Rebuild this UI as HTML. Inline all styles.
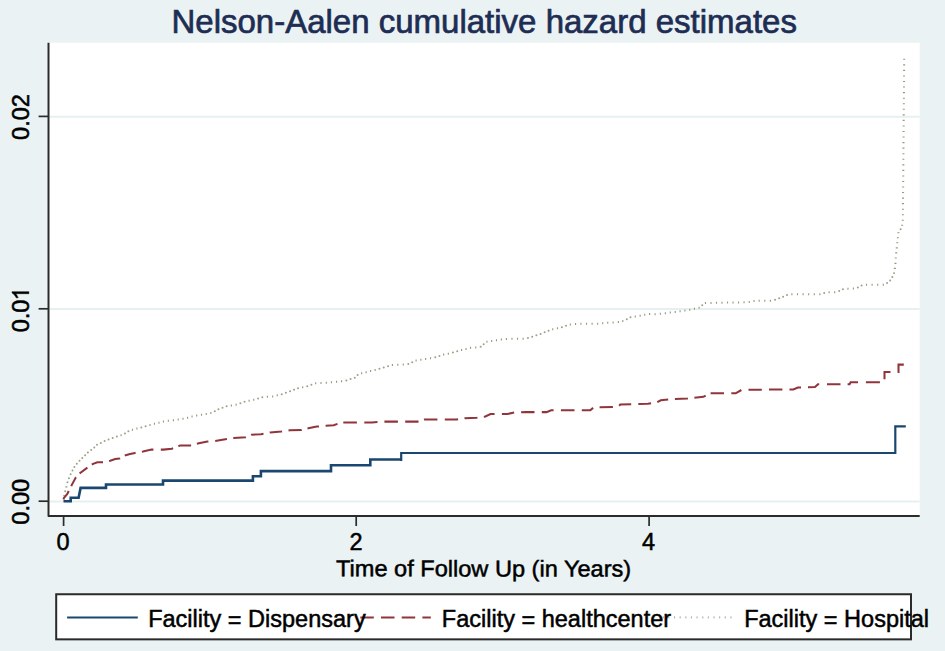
<!DOCTYPE html>
<html>
<head>
<meta charset="utf-8">
<title>Nelson-Aalen cumulative hazard estimates</title>
<style>
  html, body { margin: 0; padding: 0; background: #eaf2f3; }
  body { width: 945px; height: 651px; overflow: hidden; font-family: "Liberation Sans", sans-serif; }
  svg { display: block; }
  text { font-family: "Liberation Sans", sans-serif; stroke: #000; stroke-width: 0.5px; paint-order: stroke; }
  text.ttl { stroke: #1e2d53; stroke-width: 0.7px; }
</style>
</head>
<body>
<svg width="945" height="651" viewBox="0 0 945 651">
  <!-- graph region background -->
  <rect x="0" y="0" width="945" height="651" fill="#eaf2f3"/>

  <!-- plot region -->
  <rect x="47.5" y="42.7" width="872.2" height="473.3" fill="#ffffff"/>

  <!-- grid lines -->
  <g stroke="#e7f0f1" stroke-width="2">
    <line x1="49.5" y1="116.7" x2="919.7" y2="116.7"/>
    <line x1="49.5" y1="309.1" x2="919.7" y2="309.1"/>
    <line x1="49.5" y1="501.6" x2="919.7" y2="501.6"/>
  </g>

  <!-- Facility = Hospital (dotted) -->
  <path fill="none" stroke="#8f9a78" stroke-width="1.1" d="M63.07,495.77 h2 M65.42,486.92 h2 M121.09,434.19 v2 M132.45,428.75 v2 M136.91,427.61 v2 M150.01,423.91 v2 M154.46,422.76 v2 M158.95,421.65 v2 M163.48,420.58 v2 M168.35,419.85 v2 M173.41,419.31 v2 M178.21,418.51 v2 M183.01,417.71 v2 M187.55,416.65 v2 M192.04,415.54 v2 M196.71,414.61 v2 M201.51,413.81 v2 M206.23,412.93 v2 M210.86,411.96 v2 M231.35,404.45 v2 M236.13,403.63 v2 M249.10,399.80 v2 M253.77,398.87 v2 M267.39,395.69 v2 M272.70,395.40 v2 M277.23,394.33 v2 M302.68,386.18 v2 M315.67,382.37 v2 M321.02,382.12 v2 M326.28,381.78 v2 M331.47,381.37 v2 M336.56,380.86 v2 M341.57,380.27 v2 M361.66,372.36 v2 M366.11,371.21 v2 M370.62,370.12 v2 M375.14,369.04 v2 M392.40,363.90 v2 M397.82,363.72 v2 M403.24,363.54 v2 M416.09,359.59 v2 M420.88,358.78 v2 M425.67,357.97 v2 M430.52,357.22 v2 M443.67,353.57 v2 M448.33,352.63 v2 M461.59,349.09 v2 M466.04,347.94 v2 M470.56,346.86 v2 M475.76,346.46 v2 M486.96,340.86 v2 M491.70,340.00 v2 M496.47,339.17 v2 M501.39,338.49 v2 M506.40,337.90 v2 M511.97,337.87 v2 M517.54,337.84 v2 M523.11,337.81 v2 M552.76,328.26 v2 M557.40,327.30 v2 M570.34,323.44 v2 M575.55,323.05 v2 M580.90,322.80 v2 M586.50,322.80 v2 M592.10,322.80 v2 M597.65,322.75 v2 M602.65,322.15 v2 M607.74,321.64 v2 M613.11,321.41 v2 M618.39,321.09 v2 M622.78,319.88 v2 M635.28,315.58 v2 M640.13,314.83 v2 M644.73,313.83 v2 M649.58,313.12 v2 M655.12,313.18 v2 M660.34,312.84 v2 M665.34,312.24 v2 M670.28,311.58 v2 M675.20,310.90 v2 M680.09,310.19 v2 M684.93,309.43 v2 M689.77,308.67 v2 M694.43,307.73 v2 M699.08,306.78 v2 M705.49,301.99 v2 M710.99,301.89 v2 M716.50,301.80 v2 M722.01,301.71 v2 M727.52,301.62 v2 M733.03,301.53 v2 M738.54,301.44 v2 M744.05,301.35 v2 M749.24,300.94 v2 M754.01,300.11 v2 M759.20,299.70 v2 M764.80,299.70 v2 M770.40,299.70 v2 M791.90,293.20 v2 M797.50,293.20 v2 M803.10,293.20 v2 M808.70,293.20 v2 M814.30,293.20 v2 M819.90,293.20 v2 M829.10,291.20 v2 M834.70,291.20 v2 M847.96,287.66 v2 M853.38,287.48 v2 M866.50,283.80 v2 M872.10,283.80 v2 M877.70,283.80 v2 M883.30,283.80 v2 M893.03,273.13 h2 M893.87,268.37 h2 M894.45,263.35 h2 M894.77,258.07 h2 M895.22,252.92 h2 M895.76,247.86 h2 M896.30,242.80 h2 M896.86,237.76 h2 M897.41,232.71 h2 M901.13,225.23 h2 M901.76,220.26 h2 M901.85,214.75 h2 M901.91,209.21 h2 M901.96,203.66 h2 M902.02,198.12 h2 M902.07,192.57 h2 M902.13,187.03 h2 M902.19,181.49 h2 M902.23,175.93 h2 M902.28,170.38 h2 M902.33,164.83 h2 M902.37,159.27 h2 M902.42,153.72 h2 M902.46,148.16 h2 M902.51,142.61 h2 M902.56,137.06 h2 M902.60,131.50 h2 M902.65,125.95 h2 M902.69,120.39 h2 M902.74,114.84 h2 M902.79,109.29 h2 M902.83,103.73 h2 M902.88,98.18 h2 M902.92,92.62 h2 M902.97,87.07 h2 M903.02,81.52 h2 M903.06,75.96 h2 M903.11,70.41 h2 M903.15,64.85 h2 M903.20,59.30 h2"/>
  <g fill="#9aa386"><circle cx="65.20" cy="491.30" r="1"/><circle cx="67.46" cy="482.36" r="1"/><circle cx="68.94" cy="478.24" r="1"/><circle cx="70.65" cy="474.35" r="1"/><circle cx="72.51" cy="470.61" r="1"/><circle cx="74.40" cy="466.90" r="1"/><circle cx="76.80" cy="463.70" r="1"/><circle cx="79.50" cy="460.80" r="1"/><circle cx="82.30" cy="458.00" r="1"/><circle cx="85.10" cy="455.20" r="1"/><circle cx="87.90" cy="452.40" r="1"/><circle cx="91.22" cy="450.12" r="1"/><circle cx="94.29" cy="447.59" r="1"/><circle cx="96.97" cy="444.67" r="1"/><circle cx="100.79" cy="442.89" r="1"/><circle cx="104.61" cy="441.11" r="1"/><circle cx="108.55" cy="439.45" r="1"/><circle cx="112.71" cy="438.01" r="1"/><circle cx="116.86" cy="436.56" r="1"/><circle cx="124.96" cy="433.46" r="1"/><circle cx="128.35" cy="431.25" r="1"/><circle cx="141.32" cy="427.42" r="1"/><circle cx="145.63" cy="426.13" r="1"/><circle cx="214.80" cy="411.30" r="1"/><circle cx="218.43" cy="409.33" r="1"/><circle cx="222.53" cy="407.83" r="1"/><circle cx="226.63" cy="406.33" r="1"/><circle cx="240.35" cy="403.25" r="1"/><circle cx="244.55" cy="401.85" r="1"/><circle cx="258.06" cy="398.56" r="1"/><circle cx="262.33" cy="397.23" r="1"/><circle cx="281.72" cy="394.22" r="1"/><circle cx="285.90" cy="392.80" r="1"/><circle cx="290.06" cy="391.36" r="1"/><circle cx="294.04" cy="389.74" r="1"/><circle cx="298.03" cy="388.13" r="1"/><circle cx="307.27" cy="386.17" r="1"/><circle cx="311.40" cy="384.70" r="1"/><circle cx="346.40" cy="380.50" r="1"/><circle cx="350.59" cy="379.09" r="1"/><circle cx="354.78" cy="377.68" r="1"/><circle cx="357.65" cy="374.95" r="1"/><circle cx="379.44" cy="368.74" r="1"/><circle cx="383.72" cy="367.42" r="1"/><circle cx="388.05" cy="366.15" r="1"/><circle cx="408.33" cy="364.03" r="1"/><circle cx="412.20" cy="362.30" r="1"/><circle cx="435.27" cy="357.37" r="1"/><circle cx="439.43" cy="355.93" r="1"/><circle cx="452.89" cy="352.59" r="1"/><circle cx="457.22" cy="351.32" r="1"/><circle cx="480.68" cy="346.78" r="1"/><circle cx="483.68" cy="344.18" r="1"/><circle cx="527.96" cy="338.06" r="1"/><circle cx="532.17" cy="336.67" r="1"/><circle cx="536.40" cy="335.30" r="1"/><circle cx="540.62" cy="333.92" r="1"/><circle cx="544.64" cy="332.34" r="1"/><circle cx="548.57" cy="330.67" r="1"/><circle cx="561.86" cy="327.16" r="1"/><circle cx="566.03" cy="325.73" r="1"/><circle cx="626.80" cy="319.30" r="1"/><circle cx="630.47" cy="317.37" r="1"/><circle cx="702.25" cy="305.35" r="1"/><circle cx="775.08" cy="299.78" r="1"/><circle cx="779.17" cy="298.27" r="1"/><circle cx="783.13" cy="296.63" r="1"/><circle cx="787.03" cy="294.93" r="1"/><circle cx="824.21" cy="292.91" r="1"/><circle cx="839.21" cy="291.11" r="1"/><circle cx="842.96" cy="289.26" r="1"/><circle cx="857.88" cy="287.38" r="1"/><circle cx="861.58" cy="285.48" r="1"/><circle cx="887.08" cy="282.98" r="1"/><circle cx="890.14" cy="280.44" r="1"/><circle cx="892.32" cy="277.02" r="1"/><circle cx="900.62" cy="229.32" r="1"/></g>

  <!-- Facility = healthcenter (dashed) -->
  <path fill="none" stroke="#90353b" stroke-width="2.05" stroke-linejoin="miter" d="M63.6,499.5 L63.8,498.2 L67.3,493.9 L68.7,491 M71.2,486.1 L72.2,484.1 L75.9,477.3 L76,477.2 M79.7,473.5 L80.2,473 L87.4,467.6 M91.8,464.7 L93.1,463.8 L97.4,462.2 L103,462.2 M109.1,461 L110.3,460.7 L115.2,459.1 L119.5,458.6 L120.1,458.3 M124.8,455.7 L125.7,455.2 L130,454 L135,452.9 L135.6,452.8 M141.9,451.8 L143,451.6 L151.5,449.6 L153.4,449.6 M160.8,449.6 L163.4,449.6 L171.8,448.8 L173.1,448.3 M178.4,446.2 L180.3,445.4 L190.5,445.4 L191.1,445.3 M196.9,443.7 L198.9,443.2 L207.4,441.6 L208.4,441.5 M215.2,441 L215.2,441 M215.2,441 L225.3,439.3 L226.9,439.1 M233.3,438.2 L233.8,438.1 L245.6,437.2 L245.9,437.1 M251.1,434.9 L251.6,434.7 L260.9,434.2 L263.5,433.7 M269.7,432.6 L270.2,432.5 L281.2,431.6 L282.1,431.5 M288.5,430.5 L289.7,430.3 L301.5,430.1 L301.7,430 M307.5,428.5 L308.3,428.3 L316.8,426.6 L319,426.4 M325.6,425.7 L333.7,425.2 L337.5,423.9 M343.3,422.4 L356.9,422.4 M364.3,422.4 L371.9,422.4 L377.5,422 M384.4,421.6 L397.9,421.6 M405.2,421.6 L417.6,421.6 L418.5,421.3 M424,419.5 L424.4,419.4 L437.4,419.4 M444.8,419.4 L456.6,419.4 L458.1,419.2 M464.5,418.3 L465.1,418.2 L476.9,417.7 L477.4,417.6 M483.8,416.7 L485.4,416.5 L490.5,414 L494.6,414 M501.9,414 L507.4,414 L514.1,412.6 M521.1,412.3 L525.7,412.1 L534.5,412.1 M541.8,412.1 L546.5,412.1 L551.1,410.3 L553.6,410.3 M560.9,410.3 L574.5,410.3 M581.8,410.3 L590.3,410.3 L593.1,407.9 M599.6,407.2 L612.9,406.9 M619.1,405.7 L620.3,404.5 L631.2,404.2 M638.3,404 L647.9,403.8 L651.1,403.2 M657.3,402.1 L660.8,400.3 L668.2,399.6 M674.9,399 L687.3,398.6 L687.9,398.5 M694.4,397.8 L703.4,396.8 L705.7,395.6 M710.6,393.3 L724,393.3 M731.3,393.3 L735.7,393.3 L741.4,390 M748.5,389.8 L761.8,389.7 M769,389.6 L782.4,389.5 M789.5,389.4 L793.3,389.4 L797.9,387.6 L801,387.5 M808,387.3 L815,386.9 L818,384.3 H819.2 M827,384.3 H840.5 M847.6,384.3 H849.6 L850.6,382.3 H858 M865.9,382.3 H879.9 M884.5,379.2 V371.9 H890.5 M897.6,371.9 H898.5 V364.6 H903.8"/>

  <!-- Facility = Dispensary (solid) -->
  <path fill="none" stroke="#1a476f" stroke-width="2.6" stroke-linejoin="miter"
    d="M63.5,501.2 H70.7 V497.7 H78.6 L80.6,487.9 H106 V484.5 H163 V480.6 H252.9 V476.2 H260.9 V471.1 H331 V465.3 H370.3 V459.5 H401.2"/>
  <path fill="none" stroke="#1a476f" stroke-width="2.2" stroke-linejoin="miter"
    d="M401.2,460.9 V453 H895.3 V426.3 H905.8"/>

  <!-- axes -->
  <path d="M48.5,42.7 V516 H919.7" stroke="#2b2b2b" stroke-width="2" fill="none" stroke-linejoin="round"/>
  <g stroke="#2b2b2b" stroke-width="1.7" fill="none">
    <line x1="38.6" y1="116.4" x2="48" y2="116.4"/>
    <line x1="38.6" y1="308.8" x2="48" y2="308.8"/>
    <line x1="38.6" y1="501.2" x2="48" y2="501.2"/>
    <line x1="63.6" y1="516.5" x2="63.6" y2="526"/>
    <line x1="356.2" y1="516.5" x2="356.2" y2="526"/>
    <line x1="649.1" y1="516.5" x2="649.1" y2="526"/>
  </g>

  <!-- y tick labels -->
  <g font-size="23.5" fill="#000" text-anchor="middle">
    <text transform="translate(28.9,117) rotate(-90)">0.02</text>
    <g transform="translate(28.9,309.4) rotate(-90)">
      <text x="-22.87" text-anchor="start">0.0</text>
      <path transform="translate(9.0,0) scale(0.011475,-0.011475)" stroke="#000" stroke-width="40" d="M763 0H583V1147Q518 1085 412.5 1023T223 930V1104Q373 1174.5 485 1275T644 1470H763V0Z"/>
    </g>
    <text transform="translate(28.9,501.8) rotate(-90)">0.00</text>
  </g>

  <!-- x tick labels -->
  <g font-size="23.5" fill="#000" text-anchor="middle">
    <text x="63.1" y="549.6">0</text>
    <text x="356.1" y="549.6">2</text>
    <text x="648.5" y="549.6">4</text>
  </g>

  <!-- x axis title -->
  <text transform="translate(483.6,576.4) rotate(0.03) scale(1.03,1)" font-size="22.9" fill="#000" text-anchor="middle">Time of Follow Up (in Years)</text>

  <!-- title -->
  <text class="ttl" x="484.2" y="32.8" font-size="33" fill="#1e2d53" text-anchor="middle">Nelson-Aalen cumulative hazard estimates</text>

  <!-- legend -->
  <rect x="56.2" y="594.25" width="854.8" height="45.1" fill="#ffffff" stroke="#2a2a2a" stroke-width="2"/>
  <line x1="67.1" y1="617.4" x2="137.8" y2="617.4" stroke="#1a476f" stroke-width="2"/>
  <line x1="360.3" y1="617.4" x2="430.8" y2="617.4" stroke="#90353b" stroke-width="2" stroke-dasharray="13.5 7.2"/>
  <g fill="#a9b398"><rect x="662.7" y="616.4" width="1.1" height="2"/><rect x="668.3" y="616.4" width="1.1" height="2"/><rect x="674" y="616.4" width="1.1" height="2"/><rect x="679.6" y="616.4" width="1.1" height="2"/><rect x="685.3" y="616.4" width="1.1" height="2"/><rect x="690.9" y="616.4" width="1.1" height="2"/><rect x="696.5" y="616.4" width="1.1" height="2"/><rect x="702.2" y="616.4" width="1.1" height="2"/><rect x="707.8" y="616.4" width="1.1" height="2"/><rect x="713.5" y="616.4" width="1.1" height="2"/><rect x="719.1" y="616.4" width="1.1" height="2"/><rect x="724.7" y="616.4" width="1.1" height="2"/><rect x="730.4" y="616.4" width="1.1" height="2"/></g>
  <g font-size="23.5" fill="#000">
    <text x="148.2" y="627.3">Facility <tspan dy="0.9">=</tspan><tspan dy="-0.9"> Dispensary</tspan></text>
    <text x="441.8" y="627.3">Facility <tspan dy="0.9">=</tspan><tspan dy="-0.9"> healthcenter</tspan></text>
    <text x="744.2" y="627.3">Facility <tspan dy="0.9">=</tspan><tspan dy="-0.9"> Hospital</tspan></text>
  </g>
</svg>
</body>
</html>
